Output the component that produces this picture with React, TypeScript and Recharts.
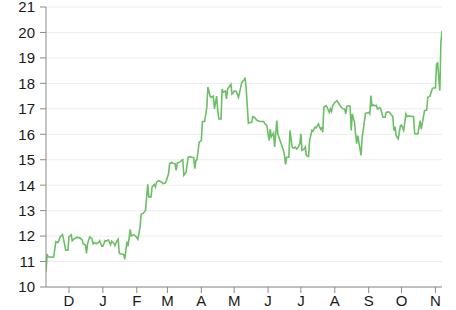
import React from "react";
import { LineChart, Line, XAxis, YAxis, CartesianGrid } from "recharts";

// Day offsets from the first trading day (about 10 Nov)
const days: number[] = [
  0, 1, 2, 7, 9, 11, 13, 15, 16, 18, 20, 21, 23, 24, 26, 28, 31, 33, 34, 36,
  37, 38, 40, 42, 43, 44, 46, 48, 49, 51, 52, 54, 55, 57, 59, 60, 62, 63, 65, 66,
  67, 69, 71, 72, 74, 75, 77, 78, 80, 82, 84, 86, 87, 89, 91, 93, 94, 96, 97, 99,
  100, 101, 103, 104, 106, 107, 109, 110, 112, 113, 115, 116, 118, 119, 120, 122, 124, 125, 126, 128,
  130, 132, 133, 135, 136, 137, 138, 140, 142, 143, 145, 147, 148, 150, 151, 153, 154, 156, 157, 158,
  160, 161, 162, 164, 165, 166, 169, 170, 171, 172, 174, 176, 177, 179, 181, 182, 183, 185, 186, 188,
  189, 191, 193, 196, 199, 200, 202, 203, 204, 205, 206, 208, 209, 211, 212, 214, 215, 217, 218, 219,
  220, 222, 223, 225, 226, 228, 229, 230, 232, 233, 234, 236, 237, 238, 240, 241, 243, 244, 246, 247,
  249, 251, 252, 253, 254, 256, 257, 259, 260, 261, 262, 264, 266, 267, 269, 270, 272, 273, 274, 275,
  277, 278, 279, 280, 282, 283, 284, 285, 287, 288, 289, 290, 292, 293, 295, 296, 297, 298, 299, 301,
  302, 303, 305, 306, 308, 310, 311, 313, 314, 317, 318, 319, 320, 322, 324, 325, 327, 329, 330, 332,
  334, 336, 337, 339, 340, 342, 343, 345, 346, 348, 349, 351, 353, 354, 356, 357, 358, 359, 360, 361,
  362,
];

const prices: number[] = [
  10.6, 11.29, 11.19, 11.17, 11.78, 11.75, 11.97, 12.06, 11.9, 11.45, 11.45, 11.97, 12.05, 11.82, 11.9, 11.95, 11.93, 11.85, 11.7, 11.65,
  11.32, 11.7, 11.97, 11.9, 11.7, 11.75, 11.7, 11.75, 11.82, 11.6, 11.6, 11.82, 11.8, 11.85, 11.66, 11.8, 11.72, 11.63, 11.82, 11.88,
  11.32, 11.3, 11.28, 11.09, 11.78, 11.6, 12.26, 12.0, 12.05, 12.0, 11.87, 12.36, 12.86, 12.9, 13.02, 14.03, 13.54, 13.54, 13.93, 14.03,
  13.93, 14.12, 14.18, 14.15, 14.12, 14.06, 14.08, 14.18, 14.45, 14.84, 14.9, 14.86, 14.84, 14.58, 14.88, 14.9, 14.97, 15.0, 14.39, 14.5,
  15.1, 15.12, 15.1, 15.08, 14.65, 14.97, 15.0, 15.69, 15.75, 16.5, 16.5, 17.06, 17.86, 17.5, 17.45, 17.5, 17.0, 17.5, 16.93, 16.6,
  16.6, 17.78, 17.65, 17.7, 17.39, 17.78, 17.97, 17.58, 17.62, 17.7, 17.68, 17.45, 17.65, 18.04, 18.13, 18.23, 17.78, 16.43, 16.46, 16.46,
  16.69, 16.65, 16.54, 16.5, 16.5, 16.42, 16.34, 16.02, 15.76, 16.2, 15.9, 16.05, 15.5, 16.54, 16.0, 15.75, 15.63, 15.37, 15.17, 14.82,
  15.1, 15.1, 16.15, 15.5, 15.45, 15.5, 15.42, 15.45, 15.63, 16.02, 15.37, 15.42, 15.5, 15.17, 15.13, 15.76, 16.15, 16.12, 16.28, 16.25,
  16.41, 16.2, 16.25, 16.08, 17.06, 17.12, 17.06, 16.86, 17.0, 16.9, 17.12, 17.25, 17.32, 17.25, 17.12, 17.05, 16.99, 16.99, 16.8, 17.1,
  17.12, 17.1, 16.15, 16.8, 16.47, 16.02, 15.63, 15.95, 15.43, 15.17, 15.89, 16.15, 16.82, 16.84, 16.86, 16.8, 17.52, 17.12, 17.15, 17.12,
  17.14, 16.99, 17.05, 16.99, 16.67, 16.67, 16.86, 16.88, 16.86, 16.7, 16.15, 16.3, 15.95, 15.82, 16.34, 16.36, 16.15, 16.8, 16.7, 16.72,
  16.7, 16.7, 16.02, 16.02, 16.02, 16.54, 16.2, 16.67, 16.93, 16.95, 17.45, 17.5, 17.78, 17.82, 17.82, 18.76, 18.8, 18.23, 17.71, 19.6,
  20.06,
];

// Month starts (day offsets) and their labels
const monthTicks: number[] = [21, 52, 83, 111, 142, 172, 203, 233, 264, 295, 325, 356];
const monthLabels: string[] = ["D", "J", "F", "M", "A", "M", "J", "J", "A", "S", "O", "N"];
const yTicks: number[] = [10, 11, 12, 13, 14, 15, 16, 17, 18, 19, 20, 21];

const data = days.map((d, i) => ({ day: d, price: prices[i] }));

const axisColor = "#8a8a8a";
const tickStyle = { fill: "#1a1a1a", fontSize: 15, fontFamily: "Liberation Sans, Arial, sans-serif" };

export default function App() {
  return (
    <div style={{ position: "absolute", left: 0, top: 0, width: 456, height: 310, background: "#fff" }}>
      <LineChart width={456} height={310} data={data} margin={{ top: 7, right: 14, bottom: 0, left: 0 }}>
        <CartesianGrid vertical={false} stroke="#ececec" xAxisId="x" yAxisId="y" />
        <XAxis
          xAxisId="x"
          dataKey="day"
          type="number"
          domain={[0, 362]}
          ticks={monthTicks}
          tickFormatter={(v: number) => monthLabels[monthTicks.indexOf(v)] ?? ""}
          height={23}
          tickSize={6}
          tickMargin={2}
          stroke={axisColor}
          tick={tickStyle}
          interval={0}
          allowDataOverflow
        />
        <XAxis
          xAxisId="top"
          orientation="top"
          type="number"
          domain={[0, 362]}
          height={0}
          tick={false}
          tickLine={false}
          stroke={axisColor}
        />
        <YAxis
          yAxisId="y"
          type="number"
          domain={[10, 21]}
          ticks={yTicks}
          width={46}
          tickSize={6}
          tickMargin={5}
          stroke={axisColor}
          tick={tickStyle}
          interval={0}
          allowDataOverflow
        />
        <YAxis
          yAxisId="right"
          orientation="right"
          type="number"
          domain={[10, 21]}
          width={0}
          tick={false}
          tickLine={false}
          stroke={axisColor}
        />
        <Line
          xAxisId="x"
          yAxisId="y"
          type="linear"
          dataKey="price"
          stroke="#6cbf66"
          strokeWidth={1.6}
          dot={false}
          isAnimationActive={false}
        />
      </LineChart>
    </div>
  );
}
